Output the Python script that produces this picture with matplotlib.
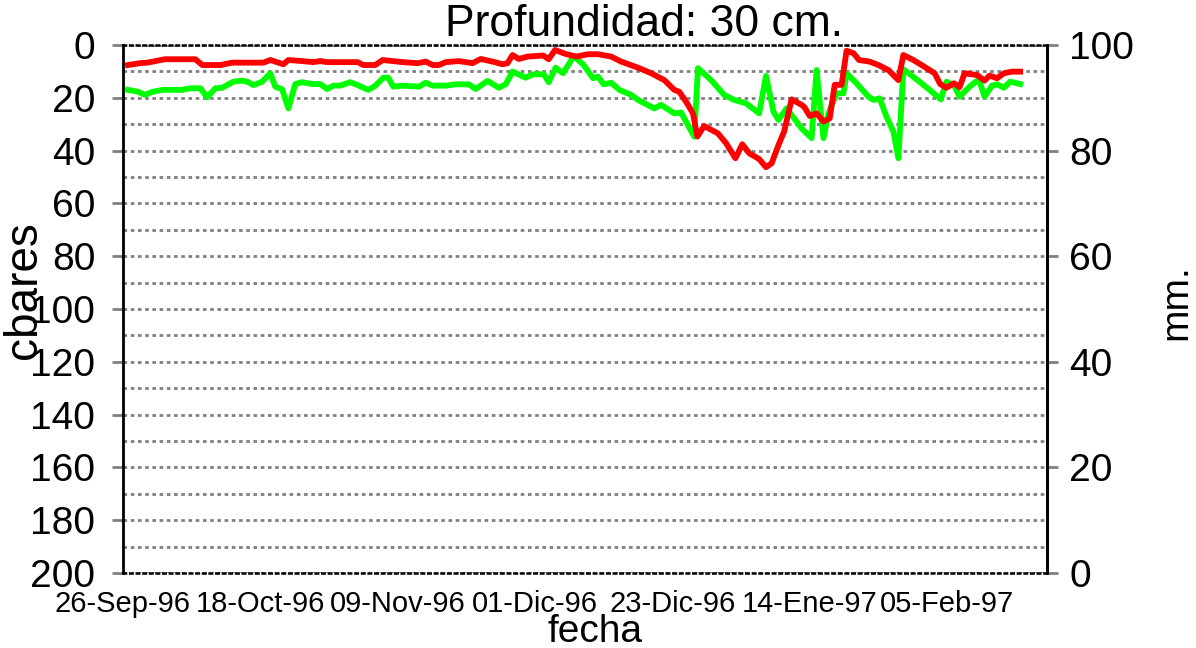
import matplotlib
matplotlib.use("Agg")
import matplotlib.pyplot as plt

plt.rcParams['font.family'] = ['Liberation Sans', 'DejaVu Sans']

# days counted from 26-Sep-96, values in cbares
red_days = [0.8, 2.7, 3.9, 6.7, 11.6, 12.7, 15.6, 17.5, 22.5, 23.6, 25.7, 26.5, 28.7, 30.5,
            31.6, 32.7, 36.4, 37.6, 38.5, 40.4, 41.6, 43.2, 44.8, 47.2, 48.5, 49.6, 50.6,
            51.7, 53.8, 56.0, 57.3, 59.2, 60.8, 61.6, 62.4, 63.4, 64.8, 67.3, 68.2, 69.2,
            70.9, 72.6, 74.5, 76.1, 78.2, 79.8, 82.5, 84.6, 86.7, 88.3, 89.1, 90.2, 91.3,
            92.0, 93.1, 95.3, 96.6, 98.1, 99.2, 100.3, 101.9, 103.0, 103.9, 105.0, 105.9,
            107.1, 108.7, 109.1, 110.0, 111.1, 112.2, 113.2, 114.0, 115.1, 115.9, 117.0,
            117.9, 119.6, 121.0, 122.6, 124.2, 125.0, 126.6, 128.2, 130.0, 130.9, 131.9,
            133.1, 134.0, 134.8, 136.8, 138.0, 138.8, 140.0, 141.1, 142.4, 143.7]
red_vals = [7.6, 6.9, 6.7, 5.4, 5.4, 7.6, 7.6, 6.7, 6.7, 5.7, 7.3, 5.7, 6.1, 6.5,
            6.1, 6.5, 6.5, 6.5, 7.6, 7.6, 5.7, 6.1, 6.5, 6.9, 6.3, 7.6, 7.6,
            6.5, 6.1, 6.9, 5.3, 6.3, 7.3, 6.9, 3.8, 5.3, 4.4, 4.0, 5.4, 1.9,
            3.4, 4.4, 3.5, 3.5, 4.4, 6.3, 8.6, 10.7, 13.3, 17.0, 17.7, 21.5, 25.9,
            34.7, 30.7, 33.5, 37.2, 42.9, 37.6, 41.0, 43.2, 46.3, 44.8, 37.9, 32.8,
            20.6, 22.7, 23.4, 26.9, 25.9, 29.0, 27.8, 15.1, 15.1, 2.2, 3.1,
            5.7, 6.3, 7.6, 9.5, 13.3, 3.8, 5.7, 8.0, 10.7, 14.8, 16.2,
            14.5, 16.0, 10.7, 11.4, 13.5, 11.6, 12.6, 10.7, 10.1, 10.1]

green_days = [0.8, 2.4, 3.5, 4.8, 6.4, 9.5, 10.8, 12.4, 13.5, 14.8, 15.9, 17.7, 19.1, 19.9,
              20.9, 22.3, 23.6, 24.4, 25.5, 26.5, 27.6, 28.7, 30.3, 31.6, 32.7, 33.7, 34.8,
              36.4, 37.6, 39.3, 40.4, 41.7, 42.5, 43.3, 44.8, 47.4, 48.5, 49.6, 51.7, 53.3,
              55.4, 56.5, 58.4, 60.2, 61.3, 62.4, 64.5, 65.7, 67.4, 68.2, 69.3, 70.5, 72.2,
              73.8, 75.3, 76.1, 77.0, 78.2, 79.5, 81.4, 82.5, 85.1, 86.2, 88.3, 89.4, 91.5,
              92.1, 94.2, 96.3, 97.9, 99.8, 101.9, 103.0, 104.2, 105.0, 106.3, 108.7, 110.3,
              111.1, 112.2, 113.0, 114.3, 115.4, 115.9, 117.5, 119.4, 120.2, 121.2, 122.3,
              123.4, 124.2, 125.0, 127.1, 129.2, 131.0, 131.9, 133.1, 134.0, 135.6, 137.1,
              138.0, 139.2, 140.0, 141.1, 142.1, 143.7]
green_vals = [17.0, 17.7, 18.9, 17.7, 17.0, 17.0, 16.4, 16.4, 19.8, 16.4, 16.2, 13.9, 13.5, 13.9,
              15.2, 13.9, 10.7, 15.8, 16.8, 24.0, 14.8, 14.1, 14.8, 14.8, 16.7, 15.4, 15.4,
              14.1, 15.2, 17.0, 15.5, 12.4, 12.4, 15.8, 15.4, 15.8, 14.3, 15.4, 15.4, 14.9,
              14.9, 16.7, 13.6, 16.2, 14.9, 10.1, 12.4, 11.1, 11.1, 14.1, 8.6, 10.7, 4.2,
              7.6, 12.6, 12.0, 14.9, 14.3, 17.0, 18.9, 20.8, 24.0, 22.7, 25.9, 25.6, 34.7,
              8.8, 13.3, 18.9, 20.8, 22.1, 25.9, 11.7, 25.3, 28.4, 24.0, 31.6, 35.3,
              9.5, 35.3, 25.9, 18.3, 18.3, 10.7, 14.5, 19.6, 20.8, 20.2, 27.2,
              32.8, 42.9, 9.2, 13.0, 17.0, 20.6, 13.9, 15.2, 19.6, 15.8, 13.0,
              19.6, 15.4, 14.9, 16.2, 13.9, 14.8]

tick_days = [0, 22, 44, 66, 88, 110, 132]
tick_labels = ['26-Sep-96', '18-Oct-96', '09-Nov-96', '01-Dic-96',
               '23-Dic-96', '14-Ene-97', '05-Feb-97']

fig = plt.figure(figsize=(11.96, 6.48), dpi=100)
ax = fig.add_axes([0.1028, 0.1157, 0.7726, 0.8149])

ax.plot(red_days, red_vals, color='#ff0000', lw=4.2, zorder=4)
ax.plot(green_days, green_vals, color='#00ff00', lw=4.2, zorder=3)

ax.set_xlim(0, 148)
ax.set_ylim(200, 0)
ax.set_yticks(range(0, 201, 20))
ax.set_yticks(range(0, 201, 10), minor=True)
ax.grid(True, which='both', axis='y', color='#808080', lw=2,
        linestyle=(0, (1.3, 1.3)))
ax.tick_params(axis='y', which='major', length=8, width=2, color='#808080',
               labelsize=28, pad=12)
ax.tick_params(axis='y', which='minor', length=0)
ax.set_xticks(tick_days)
ax.set_xticklabels(tick_labels)
ax.tick_params(axis='x', length=0, labelsize=21, pad=12)

for s in ['top', 'bottom']:
    ax.spines[s].set_linestyle(':')
    ax.spines[s].set_linewidth(1.8)
for s in ['left', 'right']:
    ax.spines[s].set_linewidth(2)

ax2 = ax.twinx()
ax2.set_ylim(0, 100)
ax2.set_yticks(range(0, 101, 20))
ax2.tick_params(axis='y', length=8, width=2, color='#808080', labelsize=28, pad=8)
for s in ['top', 'bottom']:
    ax2.spines[s].set_visible(False)
ax2.spines['right'].set_linewidth(2)

fig.text(644 / 1196, 1 - 24 / 648, 'Profundidad: 30 cm.', fontsize=32,
         ha='center', va='center')
fig.text(595 / 1196, 1 - 632 / 648, 'fecha', fontsize=28, ha='center', va='center')
fig.text(24 / 1196, 1 - 290 / 648, 'cbares', fontsize=33, rotation=90,
         ha='center', va='center')
fig.text(1176 / 1196, 1 - 302 / 648, 'mm.', fontsize=28, rotation=90,
         ha='center', va='center')

fig.savefig('out.png', dpi=100)
